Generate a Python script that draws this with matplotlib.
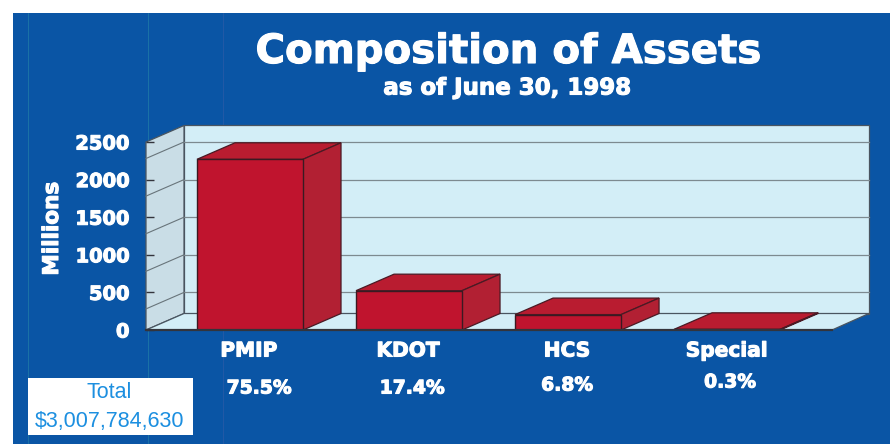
import matplotlib
matplotlib.use('Agg')
import matplotlib.pyplot as plt
import matplotlib.patheffects as pe
from matplotlib.patches import Polygon, Rectangle

categories = ['PMIP', 'KDOT', 'HCS', 'Special']
assets_millions = [2270, 523, 205, 9]
percent_labels = ['75.5%', '17.4%', '6.8%', '0.3%']
y_ticks = [0, 500, 1000, 1500, 2000, 2500]

W, H = 890, 444
BLUE = '#0a55a5'
WALL = '#d3eef7'
SIDE_WALL = '#c9dde6'
LINE = '#4a5560'
RED = '#c0142e'
RED_TOP = '#b91c30'
RED_SIDE = '#b22033'

fig = plt.figure(figsize=(W / 100, H / 100), dpi=100, facecolor='white')

# 像素坐标转换为图形坐标
def fx(px):
    return px / W

def fy(py):
    return 1 - py / H

# 蓝色背景和印刷折线
fig.patches.append(Rectangle((fx(13), 0), 1 - fx(13), fy(13), transform=fig.transFigure,
                             facecolor=BLUE, edgecolor='none', zorder=-5))
for px, col in [(28.5, '#2b8fa8'), (147.5, '#2b8fa8'), (222.5, '#3a5fa8')]:
    fig.add_artist(plt.Line2D([fx(px), fx(px)], [0, fy(13)], color=col, lw=0.5, alpha=0.7, zorder=-4))

# 坐标轴对应前平面
ax = fig.add_axes([fx(146), fy(330), (832 - 146) / W, (330 - 142) / H])
ax.patch.set_alpha(0)
ax.set_xlim(-0.654, 3.66)
ax.set_ylim(0, 2500)
for s in ax.spines.values():
    s.set_visible(False)

# 深度偏移（数据单位）
depth_x = 38 / 159
depth_y = 16.5 / 188 * 2500
x_left, x_right = ax.get_xlim()
x_scale = (x_right - x_left) / 686

def poly(points, color, z, edge=LINE, lw=0.9):
    ax.add_patch(Polygon(points, closed=True, facecolor=color, edgecolor=edge, lw=lw,
                         zorder=z, clip_on=False))

# 背墙、侧墙、地面
back_right = x_right + 37 * x_scale
poly([(x_left + depth_x, depth_y), (back_right, depth_y),
      (back_right, 2500 + depth_y), (x_left + depth_x, 2500 + depth_y)], WALL, 1)
poly([(x_left, 0), (x_left + depth_x, depth_y),
      (x_left + depth_x, 2500 + depth_y), (x_left, 2500)], SIDE_WALL, 1)
poly([(x_left, 0), (x_right, 0), (back_right, depth_y), (x_left + depth_x, depth_y)], WALL, 1)

# 网格线
for v in y_ticks[1:]:
    ax.plot([x_left + depth_x, back_right], [v, v], color='#7d8a90', lw=0.9, zorder=2, clip_on=False)
    ax.plot([x_left, x_left + depth_x], [v - depth_y, v], color='#68747a', lw=0.8, zorder=2, clip_on=False)

# 柱子：正面用 bar，顶面和侧面用多边形
bar_w = 106 / 159
xs = range(len(categories))
ax.bar(xs, assets_millions, width=bar_w, color=RED, edgecolor='#3a1a22', lw=1.0, zorder=5)
for i, v in zip(xs, assets_millions):
    l, r = i - bar_w / 2, i + bar_w / 2
    poly([(l, v), (r, v), (r + depth_x, v + depth_y), (l + depth_x, v + depth_y)], RED_TOP, 4, edge='#4a1a24')
    poly([(r, 0), (r + depth_x, depth_y), (r + depth_x, v + depth_y), (r, v)], RED_SIDE, 4, edge='#4a1a24')

ax.plot([x_left, x_right], [0, 0], color='#33343c', lw=1.6, zorder=6, clip_on=False)

# 描边让文字更粗
heavy = [pe.withStroke(linewidth=0.8, foreground='white')]

ax.set_xticks([])
ax.set_yticks(y_ticks)
ax.tick_params(axis='y', direction='in', length=6, width=1.0, color='#33343c', pad=12)
for t in ax.get_yticklabels():
    t.set_color('white')
    t.set_fontweight('bold')
    t.set_fontsize(14)
    t.set_fontfamily('DejaVu Sans')
    t.set_path_effects(heavy)
for t in ax.yaxis.get_ticklines():
    t.set_zorder(3)

# 文字
bold = dict(color='white', fontweight='bold', family='DejaVu Sans', ha='center', va='center',
            path_effects=heavy)
fig.text(fx(508), fy(52), 'Composition of Assets', fontsize=29, **bold)
fig.text(fx(507), fy(88), 'as of June 30, 1998', fontsize=16.5, **bold)
fig.text(fx(52), fy(229), 'Millions', fontsize=15.5, rotation=90, **bold)

label_x = [249, 408, 567, 727]
for px, name in zip(label_x, categories):
    fig.text(fx(px), fy(351), name, fontsize=14.5, **bold)

pct_x = [259, 412, 567, 730]
pct_y = [388, 388, 385, 382]
for px, py, s in zip(pct_x, pct_y, percent_labels):
    fig.text(fx(px), fy(py), s, fontsize=13.5, **bold)

# 合计框
fig.patches.append(Rectangle((fx(28), fy(435)), 165 / W, 57 / H, transform=fig.transFigure,
                             facecolor='white', edgecolor='none', zorder=3))
total = dict(color='#1c8fe0', family='Liberation Sans', ha='center', va='center', zorder=4)
fig.text(fx(109), fy(392), 'Total', fontsize=15.5, **total)
fig.text(fx(110), fy(421), '$3,007,784,630', fontsize=15.5, **total)

fig.savefig('out.png', dpi=100)
